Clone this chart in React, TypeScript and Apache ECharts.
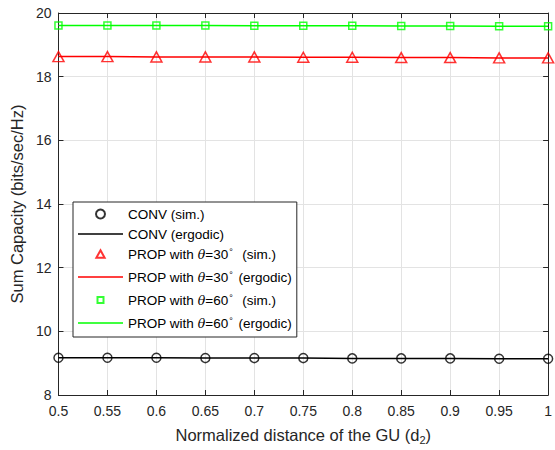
import React, { useEffect, useRef } from "react";
import * as echarts from "echarts";

const distances = [0.5, 0.55, 0.6, 0.65, 0.7, 0.75, 0.8, 0.85, 0.9, 0.95, 1.0];
const convValues = [9.17, 9.17, 9.17, 9.16, 9.16, 9.16, 9.15, 9.15, 9.15, 9.14, 9.14];
const prop30Values = [18.63, 18.63, 18.62, 18.62, 18.62, 18.61, 18.61, 18.6, 18.6, 18.59, 18.59];
const prop60Values = [19.61, 19.61, 19.61, 19.61, 19.6, 19.6, 19.6, 19.59, 19.59, 19.58, 19.58];
const seriesNames = [
  "CONV (sim.)",
  "CONV (ergodic)",
  "PROP with θ=30° (sim.)",
  "PROP with θ=30° (ergodic)",
  "PROP with θ=60° (sim.)",
  "PROP with θ=60° (ergodic)",
];
const legendLabels: Record<string, string> = {
  "CONV (sim.)": "CONV (sim.)",
  "CONV (ergodic)": "CONV (ergodic)",
  "PROP with θ=30° (sim.)": "PROP with {i|θ}=30{s|°}  (sim.)",
  "PROP with θ=30° (ergodic)": "PROP with {i|θ}=30{s|°} (ergodic)",
  "PROP with θ=60° (sim.)": "PROP with {i|θ}=60{s|°}  (sim.)",
  "PROP with θ=60° (ergodic)": "PROP with {i|θ}=60{s|°} (ergodic)",
};

const FONT = "Liberation Sans";
const AXIS_COLOR = "#262626";
const LINE_ICON = "path://M0,0 M45,9 M0,3.75 L45,3.75 L45,5.25 L0,5.25 Z";
const TRI_ICON = "path://M0,0 M10,10 M5,0.8 L9.6,9.2 L0.4,9.2 Z";
const SQ_ICON = "path://M0,0 M9,9 M1.5,1.5 L7.5,1.5 L7.5,7.5 L1.5,7.5 Z";

function pairs(vals: number[]) {
  return distances.map((d, i) => [d, vals[i]]);
}

export default function App() {
  const ref = useRef<HTMLDivElement>(null);
  useEffect(() => {
    document.body.style.margin = "0";
    const chart = echarts.init(ref.current!, undefined, { renderer: "svg" });
    const hollow = (color: string) => ({
      color: "rgba(0,0,0,0)",
      borderColor: color,
      borderWidth: 1.5,
    });
    const boxAxis = (position: string, isX: boolean) => ({
      type: "value",
      position,
      min: isX ? 0.5 : 8,
      max: isX ? 1 : 20,
      interval: isX ? 0.05 : 2,
      axisLine: { show: true, onZero: false, lineStyle: { color: AXIS_COLOR, width: 1 } },
      axisTick: { show: true, inside: true, length: 5, lineStyle: { color: AXIS_COLOR } },
      axisLabel: { show: false },
      splitLine: { show: false },
    });
    const option: any = {
      animation: false,
      backgroundColor: "#ffffff",
      textStyle: { fontFamily: FONT },
      grid: { left: 57, right: 3, top: 13, bottom: 50, containLabel: false },
      legend: {
        orient: "vertical",
        left: 73,
        top: 202,
        padding: [5, 5, 4, 5],
        itemWidth: 45,
        itemHeight: 9,
        itemGap: 6,
        backgroundColor: "#ffffff",
        borderColor: AXIS_COLOR,
        borderWidth: 1,
        borderRadius: 0,
        data: [
          { name: seriesNames[0], icon: "circle" },
          { name: seriesNames[1], icon: LINE_ICON, itemStyle: { color: "#000000", borderWidth: 0 } },
          { name: seriesNames[2], icon: TRI_ICON },
          { name: seriesNames[3], icon: LINE_ICON, itemStyle: { color: "#ff0000", borderWidth: 0 } },
          { name: seriesNames[4], icon: SQ_ICON },
          { name: seriesNames[5], icon: LINE_ICON, itemStyle: { color: "#00ff00", borderWidth: 0 } },
        ],
        formatter: (name: string) => legendLabels[name],
        textStyle: {
          fontFamily: FONT,
          fontSize: 13.5,
          color: "#000",
          lineHeight: 14,
          rich: {
            i: { fontFamily: "DejaVu Serif", fontStyle: "italic", fontSize: 12.5, color: "#000" },
            s: { fontSize: 9, color: "#000", verticalAlign: "top", lineHeight: 14, padding: [0, 2, 8, 1] },
          },
        },
      },
      xAxis: [
        {
          type: "value",
          min: 0.5,
          max: 1,
          interval: 0.05,
          name: "Normalized distance of the GU (d{sub|2})",
          nameLocation: "middle",
          nameGap: 30,
          nameTextStyle: {
            fontFamily: FONT,
            fontSize: 16.5,
            color: AXIS_COLOR,
            rich: { sub: { fontSize: 11, verticalAlign: "bottom", padding: [9, 0, 0, 0], color: AXIS_COLOR } },
          },
          axisLine: { show: true, lineStyle: { color: AXIS_COLOR, width: 1 } },
          axisTick: { show: true, inside: true, length: 5, lineStyle: { color: AXIS_COLOR } },
          axisLabel: {
            fontFamily: FONT,
            fontSize: 14,
            color: AXIS_COLOR,
            margin: 9,
            formatter: (v: number) => String(Math.round(v * 100) / 100),
          },
          splitLine: { show: true, lineStyle: { color: "#e3e3e3", width: 1 } },
        },
        boxAxis("top", true),
      ],
      yAxis: [
        {
          type: "value",
          min: 8,
          max: 20,
          interval: 2,
          name: "Sum Capacity (bits/sec/Hz)",
          nameLocation: "middle",
          nameGap: 28,
          nameTextStyle: { fontFamily: FONT, fontSize: 16.5, color: AXIS_COLOR },
          axisLine: { show: true, lineStyle: { color: AXIS_COLOR, width: 1 } },
          axisTick: { show: true, inside: true, length: 5, lineStyle: { color: AXIS_COLOR } },
          axisLabel: { fontFamily: FONT, fontSize: 14, color: AXIS_COLOR, margin: 7 },
          splitLine: { show: true, lineStyle: { color: "#e3e3e3", width: 1 } },
        },
        boxAxis("right", false),
      ],
      series: [
        {
          name: seriesNames[0],
          type: "scatter",
          symbol: "circle",
          symbolSize: 9,
          itemStyle: hollow("#000000"),
          data: pairs(convValues),
          z: 3,
        },
        {
          name: seriesNames[1],
          type: "line",
          showSymbol: false,
          symbol: "none",
          lineStyle: { color: "#000000", width: 1.5 },
          itemStyle: { color: "#000000" },
          data: pairs(convValues),
          z: 2,
        },
        {
          name: seriesNames[2],
          type: "scatter",
          symbol: "triangle",
          symbolSize: [11, 10],
          itemStyle: hollow("#ff0000"),
          data: pairs(prop30Values),
          z: 3,
        },
        {
          name: seriesNames[3],
          type: "line",
          showSymbol: false,
          symbol: "none",
          lineStyle: { color: "#ff0000", width: 1.5 },
          itemStyle: { color: "#ff0000" },
          data: pairs(prop30Values),
          z: 2,
        },
        {
          name: seriesNames[4],
          type: "scatter",
          symbol: "rect",
          symbolSize: 7,
          itemStyle: hollow("#00ff00"),
          data: pairs(prop60Values),
          z: 3,
        },
        {
          name: seriesNames[5],
          type: "line",
          showSymbol: false,
          symbol: "none",
          lineStyle: { color: "#00ff00", width: 1.5 },
          itemStyle: { color: "#00ff00" },
          data: pairs(prop60Values),
          z: 2,
        },
      ],
    };
    chart.setOption(option);
    return () => chart.dispose();
  }, []);
  return <div ref={ref} style={{ width: 555, height: 450 }} />;
}
